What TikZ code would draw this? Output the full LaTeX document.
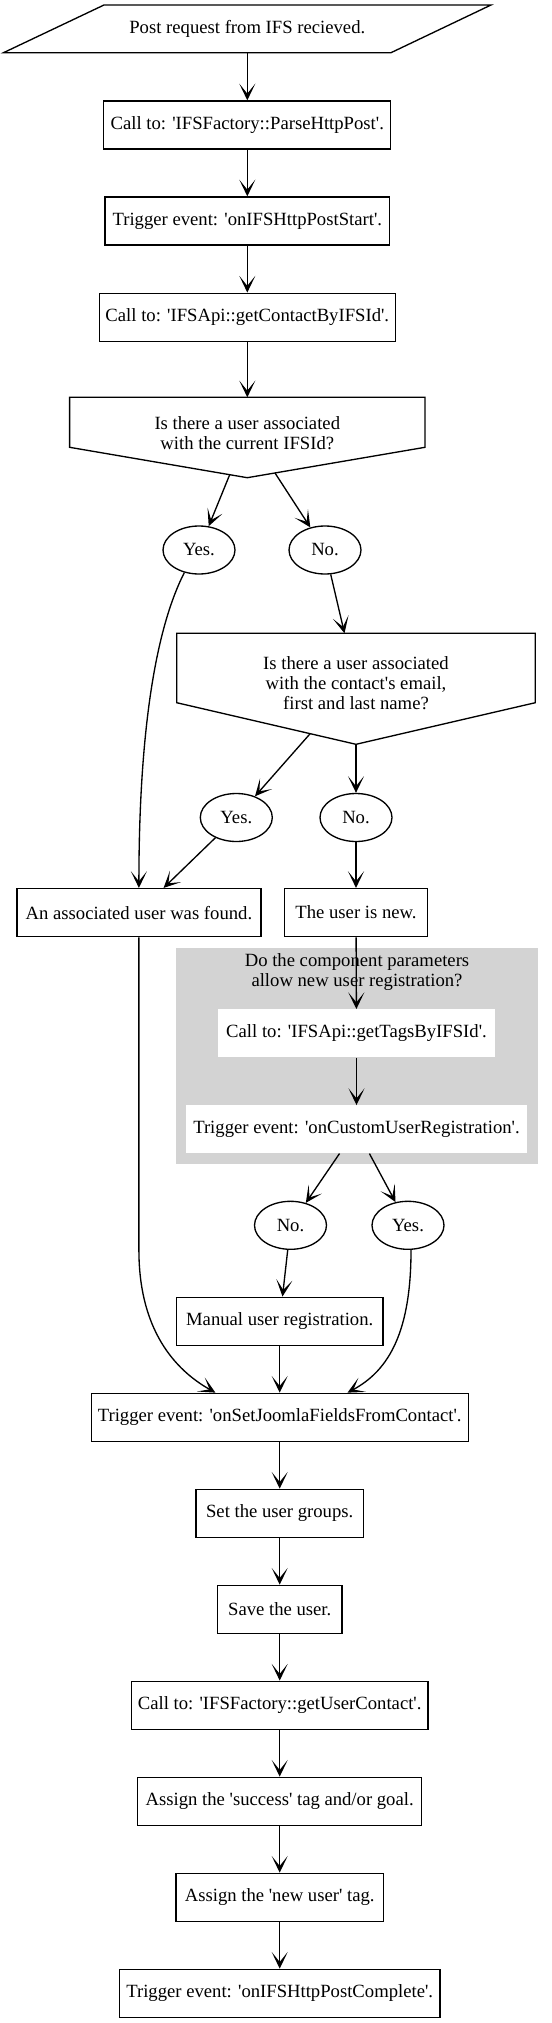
\documentclass[tikz,border=0pt]{standalone}
\usepackage{fontspec}
\setmainfont{Liberation Serif}
\usetikzlibrary{arrows.meta,shapes.geometric,calc}
\definecolor{clustergray}{HTML}{D3D3D3}
\newcommand{\qs}{\textquotesingle}
\begin{document}
\begin{tikzpicture}[x=0.75pt,y=-0.75pt,
  font=\fontsize{14pt}{15pt}\selectfont,
  every node/.style={inner sep=0pt},
  ln/.style={line width=1pt},
  box/.style={draw, ln, rectangle, minimum height=36pt},
  ell/.style={draw, ln, ellipse, minimum width=54pt, minimum height=36pt},
  wbox/.style={fill=white, rectangle, minimum height=36pt},
  lbl/.style={align=center},
  arr/.style={ln, -{Stealth[length=12.5pt,width=12pt,inset=7.5pt]}},
]
\useasboundingbox (0,0) rectangle (552,2023);

% cluster background
\fill[clustergray] (176,947.7) rectangle (538,1164.3);
\node[lbl] (clab) at (357,972.5) {Do the component parameters\\ allow new user registration?};

% start parallelogram
\draw[ln] (3.5,52.7) -- (104,5) -- (491,5) -- (391,52.7) -- cycle;
\node[minimum height=36pt] (start) at (247.3,28.9) {Post request from IFS recieved.};

% top column
\node[box, minimum width=215.25pt] (b1) at (247.3,125) {Call to: \qs IFSFactory::ParseHttpPost\qs .};
\node[box, minimum width=213.4pt] (b2) at (247.3,221) {Trigger event: \qs onIFSHttpPostStart\qs .};
\node[box, minimum width=222.2pt] (b3) at (247.3,317.2) {Call to: \qs IFSApi::getContactByIFSId\qs .};

% first decision
\draw[ln] (69.6,397.3) -- (425,397.3) -- (425,447.3) -- (247.3,477.7) -- (69.6,447.3) -- cycle;
\node[lbl] (inv1) at (247.3,433.3) {Is there a user associated\\ with the current IFSId?};
\coordinate (inv1top) at (247.3,397.3);
\coordinate (inv1y) at (229.7,474.7);
\coordinate (inv1n) at (275,473);

\node[ell] (yes1) at (199,550) {Yes.};
\node[ell] (no1) at (325,550) {No.};

% second decision
\draw[ln] (176.7,633.3) -- (535.3,633.3) -- (535.3,702.7) -- (356,744.3) -- (176.7,702.7) -- cycle;
\node[lbl] (inv2) at (356,683.3) {Is there a user associated\\ with the contact\qs s email,\\ first and last name?};
\coordinate (inv2top) at (344.5,633.3);
\coordinate (inv2y) at (310.2,733.6);
\coordinate (inv2n) at (356,744.3);

\node[ell] (yes2) at (236.3,817.5) {Yes.};
\node[ell] (no2) at (356,817.5) {No.};

\node[box, minimum width=182.9pt] (assoc) at (138.9,912.6) {An associated user was found.};
\node[box, minimum width=107.25pt] (new) at (356,912.6) {The user is new.};

\node[wbox, minimum width=207.8pt] (gettags) at (356.5,1033.3) {Call to: \qs IFSApi::getTagsByIFSId\qs .};
\node[wbox, minimum width=255.75pt] (custom) at (356.5,1129.3) {Trigger event: \qs onCustomUserRegistration\qs .};

\node[ell] (no3) at (290.5,1225.3) {No.};
\node[ell] (yes3) at (408,1225.3) {Yes.};

% bottom column
\node[box, minimum width=155pt] (manual) at (279.7,1321.2) {Manual user registration.};
\node[box, minimum width=282.75pt] (trig) at (279.7,1417.3) {Trigger event: \qs onSetJoomlaFieldsFromContact\qs .};
\node[box, minimum width=125.5pt] (groups) at (279.7,1513.3) {Set the user groups.};
\node[box, minimum width=93.5pt] (save) at (279.7,1609.3) {Save the user.};
\node[box, minimum width=222.2pt] (contact) at (279.7,1705.2) {Call to: \qs IFSFactory::getUserContact\qs .};
\node[box, minimum width=212.9pt] (success) at (279.7,1801.3) {Assign the \qs success\qs\ tag and/or goal.};
\node[box, minimum width=155.6pt] (newtag) at (279.7,1897.3) {Assign the \qs new user\qs\ tag.};
\node[box, minimum width=240.5pt] (complete) at (279.7,1993.3) {Trigger event: \qs onIFSHttpPostComplete\qs .};

% connectors
\draw[arr] (start) -- (b1);
\draw[arr] (b1) -- (b2);
\draw[arr] (b2) -- (b3);
\draw[arr] (b3) -- (inv1top);
\draw[arr] (inv1y) -- (yes1);
\draw[arr] (inv1n) -- (no1);
\draw[arr] (no1) -- (inv2top);
\draw[arr] (inv2y) -- (yes2);
\draw[arr] (inv2n) -- (no2);
\draw[arr] (yes1.237) .. controls (150,640) and (138.9,760) .. (assoc.north);
\draw[arr] (yes2) -- (assoc.45);
\draw[arr] (no2) -- (new);
\draw[arr] (new) -- (gettags);
\draw[arr] (gettags) -- (custom);
\draw[arr] (custom.235.5) -- (no3);
\draw[arr] (custom.298) -- (yes3);
\draw[arr] (no3) -- (manual);
\coordinate (abend) at (138.9,1250);
\draw[arr] (assoc.south) -- (abend) .. controls (138.9,1330) and (175,1370) .. (trig.159);
\draw[arr] (yes3.-83) .. controls (411,1330) and (390,1370) .. (trig.20);
\draw[arr] (manual) -- (trig);
\draw[arr] (trig) -- (groups);
\draw[arr] (groups) -- (save);
\draw[arr] (save) -- (contact);
\draw[arr] (contact) -- (success);
\draw[arr] (success) -- (newtag);
\draw[arr] (newtag) -- (complete);
\end{tikzpicture}
\end{document}
